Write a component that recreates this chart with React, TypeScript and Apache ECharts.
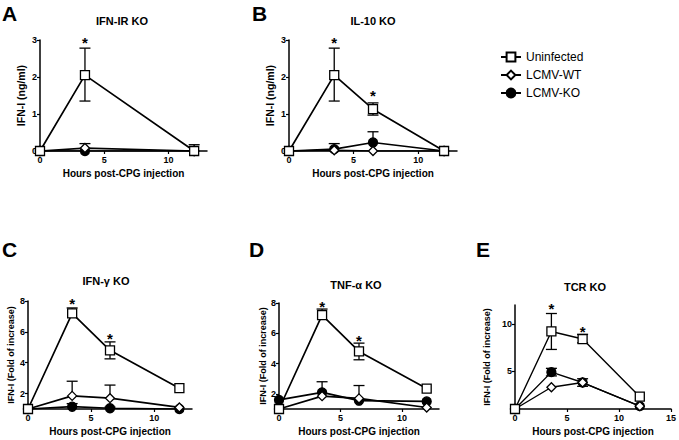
import React, { useEffect, useRef } from "react";
import * as echarts from "echarts";

const FONT = '"Liberation Sans", Arial, Helvetica, sans-serif';

const groupNames = ["Uninfected", "LCMV-WT", "LCMV-KO"];
const hoursA = [0, 3.5, 12];
const hours = [0, 3.5, 6.5, 12];
const xTickValues = [0, 5, 10];
const xTickValuesE = [0, 5, 10, 15];
const yTicksAB = [0, 1, 2, 3];
const yTicksCD = [2, 4, 6, 8];
const yTicksE = [5, 10];

// Panel A: IFN-IR KO
const aUninf = [0, 2.05, 0];
const aUninfLo = [0, 1.35, 0];
const aUninfHi = [0, 2.78, 0.17];
const aWT = [0, 0.08, 0];
const aWTLo = [0, 0.08, 0];
const aWTHi = [0, 0.2, 0];
const aKO = [0, 0, 0];
const aStars = [[3.5, 3.04]];

// Panel B: IL-10 KO
const bUninf = [0, 2.05, 1.13, 0];
const bUninfLo = [0, 1.35, 0.97, 0];
const bUninfHi = [0, 2.78, 1.3, 0];
const bWT = [0, 0.02, 0, 0];
const bKO = [0, 0.05, 0.23, 0];
const bKOLo = [0, 0.05, 0.23, 0];
const bKOHi = [0, 0.2, 0.52, 0];
const bStars = [[3.5, 3.04], [6.5, 1.6]];

// Panel C: IFN-γ KO
const cUninf = [1, 7.2, 4.8, 2.35];
const cUninfLo = [1, 7.2, 4.25, 2.35];
const cUninfHi = [1, 7.55, 5.35, 2.35];
const cWT = [1, 1.85, 1.7, 1.1];
const cWTLo = [1, 1.85, 1.7, 1.1];
const cWTHi = [1, 2.8, 2.55, 1.1];
const cKO = [1, 1.15, 1.05, 1.0];
const cKOLo = [1, 1.15, 1.05, 1.0];
const cKOHi = [1, 1.35, 1.12, 1.0];
const cStars = [[3.5, 8.1], [6.5, 5.8]];

// Panel D: TNF-α KO
const dUninf = [1, 7.2, 4.8, 2.35];
const dUninfLo = [1, 7.2, 4.25, 2.35];
const dUninfHi = [1, 7.6, 5.35, 2.35];
const dWT = [1, 1.85, 1.7, 1.1];
const dWTLo = [1, 1.85, 1.7, 1.1];
const dWTHi = [1, 2.8, 2.55, 1.1];
const dKO = [1.6, 2.1, 1.55, 1.5];
const dStars = [[3.5, 8.05], [6.5, 5.8]];

// Panel E: TCR KO
const eUninf = [1, 9.2, 8.4, 2.3];
const eUninfLo = [1, 7.3, 8.0, 2.3];
const eUninfHi = [1, 11.1, 8.9, 2.3];
const eWT = [1, 3.3, 3.8, 1.3];
const eKO = [1, 4.9, 3.8, 1.3];
const eKOLo = [1, 4.5, 3.4, 1.3];
const eKOHi = [1, 5.3, 4.2, 1.3];
const eStars = [[3.5, 12.05], [6.5, 9.65]];

type Grp = { y: number[]; lo?: number[]; hi?: number[] };
type Panel = {
  grid: { left: number; top: number; width: number; height: number };
  x: number[];
  xMax: number;
  xTicks: number[];
  yMin: number;
  yMax: number;
  yTicks: number[];
  yName: string;
  yNameGap: number;
  yNameSize: number;
  groups: Grp[];
  stars: number[][];
  lineWidth: number;
};

const panels: Panel[] = [
  {
    grid: { left: 40, top: 40, width: 167, height: 111 },
    x: hoursA, xMax: 13, xTicks: xTickValues,
    yMin: 0, yMax: 3, yTicks: yTicksAB, yName: "IFN-I (ng/ml)", yNameGap: 14, yNameSize: 10.5,
    groups: [
      { y: aUninf, lo: aUninfLo, hi: aUninfHi },
      { y: aWT, lo: aWTLo, hi: aWTHi },
      { y: aKO },
    ],
    stars: aStars, lineWidth: 1.7,
  },
  {
    grid: { left: 289, top: 40, width: 168, height: 111 },
    x: hours, xMax: 13, xTicks: xTickValues,
    yMin: 0, yMax: 3, yTicks: yTicksAB, yName: "IFN-I (ng/ml)", yNameGap: 14, yNameSize: 10.5,
    groups: [
      { y: bUninf, lo: bUninfLo, hi: bUninfHi },
      { y: bWT },
      { y: bKO, lo: bKOLo, hi: bKOHi },
    ],
    stars: bStars, lineWidth: 1.7,
  },
  {
    grid: { left: 28, top: 301, width: 164, height: 108 },
    x: hours, xMax: 13, xTicks: xTickValues,
    yMin: 1, yMax: 8, yTicks: yTicksCD, yName: "IFN-I (Fold of increase)", yNameGap: 13, yNameSize: 9,
    groups: [
      { y: cUninf, lo: cUninfLo, hi: cUninfHi },
      { y: cWT, lo: cWTLo, hi: cWTHi },
      { y: cKO, lo: cKOLo, hi: cKOHi },
    ],
    stars: cStars, lineWidth: 1.7,
  },
  {
    grid: { left: 279, top: 303, width: 160, height: 106 },
    x: hours, xMax: 13, xTicks: xTickValues,
    yMin: 1, yMax: 8, yTicks: yTicksCD, yName: "IFN-I (Fold of increase)", yNameGap: 12, yNameSize: 9,
    groups: [
      { y: dUninf, lo: dUninfLo, hi: dUninfHi },
      { y: dWT, lo: dWTLo, hi: dWTHi },
      { y: dKO },
    ],
    stars: dStars, lineWidth: 1.7,
  },
  {
    grid: { left: 515, top: 305, width: 157, height: 104 },
    x: hours, xMax: 15, xTicks: xTickValuesE,
    yMin: 1, yMax: 12, yTicks: yTicksE, yName: "IFN-I (Fold of increase)", yNameGap: 24, yNameSize: 9,
    groups: [
      { y: eUninf, lo: eUninfLo, hi: eUninfHi },
      { y: eWT },
      { y: eKO, lo: eKOLo, hi: eKOHi },
    ],
    stars: eStars, lineWidth: 1.4,
  },
];

const symbols = ["rect", "diamond", "circle"];
const symbolSizes = [9, 9, 9];
const fills = ["#ffffff", "#ffffff", "#000000"];

const titles = [
  { text: "A", left: 2, top: 3, size: 21 },
  { text: "B", left: 252, top: 3, size: 21 },
  { text: "C", left: 2, top: 239, size: 21 },
  { text: "D", left: 249, top: 239, size: 21 },
  { text: "E", left: 476, top: 239, size: 21 },
];
const panelTitles = [
  { text: "IFN-IR KO", cx: 122, top: 15 },
  { text: "IL-10 KO", cx: 373, top: 15 },
  { text: "IFN-γ KO", cx: 106, top: 275 },
  { text: "TNF-α KO", cx: 356, top: 279 },
  { text: "TCR KO", cx: 585, top: 281 },
];

function buildOption() {
  const grid: any[] = [];
  const xAxis: any[] = [];
  const yAxis: any[] = [];
  const series: any[] = [];
  panels.forEach((p, pi) => {
    grid.push({ ...p.grid, containLabel: false });
    xAxis.push({
      type: "value", gridIndex: pi, min: 0, max: p.xMax,
      name: "Hours post-CPG injection", nameLocation: "middle", nameGap: 17,
      nameTextStyle: { fontFamily: FONT, fontSize: 10, fontWeight: "bold", color: "#000" },
      axisLine: { show: true, onZero: false, lineStyle: { color: "#000", width: 1.5 } },
      axisTick: { show: true, length: 3, customValues: p.xTicks, lineStyle: { color: "#000", width: 1.2 } },
      axisLabel: { customValues: p.xTicks, fontFamily: FONT, fontSize: 9, fontWeight: "bold", color: "#000", margin: 4 },
      splitLine: { show: false },
    });
    yAxis.push({
      type: "value", gridIndex: pi, min: p.yMin, max: p.yMax,
      name: p.yName, nameLocation: "middle", nameGap: p.yNameGap,
      nameTextStyle: { fontFamily: FONT, fontSize: p.yNameSize, fontWeight: "bold", color: "#000" },
      axisLine: { show: true, onZero: false, lineStyle: { color: "#000", width: 1.5 } },
      axisTick: { show: true, length: 3, customValues: p.yTicks, lineStyle: { color: "#000", width: 1.2 } },
      axisLabel: { customValues: p.yTicks, fontFamily: FONT, fontSize: 9, fontWeight: "bold", color: "#000", margin: 3 },
      splitLine: { show: false },
    });
    const errData: number[][] = [];
    p.groups.forEach((g) => {
      if (!g.hi) return;
      g.y.forEach((v, i) => {
        const lo = g.lo ? g.lo[i] : v;
        const hi = g.hi![i];
        if (hi > v || lo < v) errData.push([p.x[i], v, lo, hi]);
      });
    });
    series.push({
      type: "custom", xAxisIndex: pi, yAxisIndex: pi, z: 1, silent: true,
      encode: { x: 0, y: 1 },
      data: errData,
      renderItem: (params: any, api: any) => {
        const x = api.value(0), y = api.value(1), lo = api.value(2), hi = api.value(3);
        const pc = api.coord([x, y]);
        const ph = api.coord([x, hi]);
        const pl = api.coord([x, lo]);
        const st = { stroke: "#000", lineWidth: 1.3, fill: null };
        const cw = 5.5;
        const children: any[] = [];
        if (hi > y) {
          children.push({ type: "line", shape: { x1: pc[0], y1: pc[1], x2: ph[0], y2: ph[1] }, style: st });
          children.push({ type: "line", shape: { x1: ph[0] - cw, y1: ph[1], x2: ph[0] + cw, y2: ph[1] }, style: st });
        }
        if (lo < y) {
          children.push({ type: "line", shape: { x1: pc[0], y1: pc[1], x2: pl[0], y2: pl[1] }, style: st });
          children.push({ type: "line", shape: { x1: pl[0] - cw, y1: pl[1], x2: pl[0] + cw, y2: pl[1] }, style: st });
        }
        return { type: "group", children };
      },
    });
    [2, 1, 0].forEach((gi) => {
      const g = p.groups[gi];
      series.push({
        type: "line", name: groupNames[gi], xAxisIndex: pi, yAxisIndex: pi,
        data: g.y.map((v, i) => [p.x[i], v]),
        symbol: symbols[gi], symbolSize: symbolSizes[gi], showAllSymbol: true,
        z: 3 + (2 - gi),
        lineStyle: { color: "#000", width: p.lineWidth },
        itemStyle: { color: fills[gi], borderColor: "#000", borderWidth: 1.3 },
        emphasis: { disabled: true },
      });
    });
    // significance stars drawn as text at data coordinates
    series.push({
      type: "custom", xAxisIndex: pi, yAxisIndex: pi, z: 6, silent: true, clip: false,
      encode: { x: 0, y: 1 },
      data: p.stars,
      renderItem: (params: any, api: any) => {
        const pt = api.coord([api.value(0), api.value(1)]);
        return {
          type: "text", x: pt[0], y: pt[1] + 4,
          style: { text: "*", fill: "#000", font: `bold 15px ${FONT}`, textAlign: "center", textVerticalAlign: "middle" },
        };
      },
    });
  });

  const title: any[] = [];
  titles.forEach((t) => title.push({
    text: t.text, left: t.left, top: t.top, padding: 0,
    textStyle: { fontFamily: FONT, fontSize: t.size, fontWeight: "bold", color: "#000" },
  }));
  panelTitles.forEach((t) => title.push({
    text: t.text, left: t.cx, top: t.top, padding: 0, textAlign: "center",
    textStyle: { fontFamily: FONT, fontSize: 11, fontWeight: "bold", color: "#000" },
  }));

  return {
    animation: false,
    backgroundColor: "#fff",
    title,
    legend: {
      data: groupNames, orient: "vertical", left: 500, top: 51,
      itemWidth: 20, itemHeight: 11, itemGap: 6, padding: 0,
      textStyle: { fontFamily: FONT, fontSize: 12, color: "#000" },
      selectedMode: false,
    },
    grid, xAxis, yAxis, series,
  };
}

export default function App() {
  const ref = useRef<HTMLDivElement>(null);
  useEffect(() => {
    if (!ref.current) return;
    const chart = echarts.init(ref.current, undefined, { renderer: "svg" });
    chart.setOption(buildOption() as any);
    return () => chart.dispose();
  }, []);
  return <div ref={ref} style={{ width: 679, height: 440, position: "absolute", left: 0, top: 0 }} />;
}
